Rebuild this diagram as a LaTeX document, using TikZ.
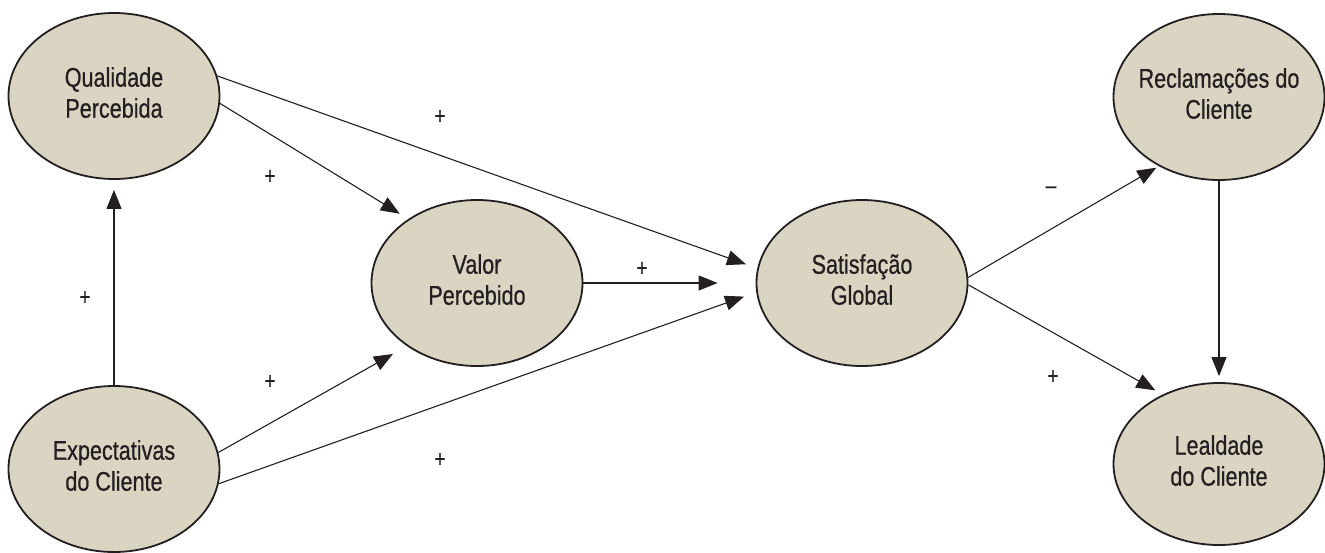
\documentclass[tikz,border=0pt]{standalone}
\usepackage{fontspec}
\setmainfont{Liberation Sans}[FakeStretch=0.8,FakeBold=0.6]
\usetikzlibrary{arrows.meta,shapes.geometric}
\definecolor{ink}{HTML}{231F20}
\definecolor{beige}{HTML}{DAD5C3}
\newcommand\twol[2]{\makebox[0pt]{\begin{tabular}{@{}c@{}}#1\\#2\end{tabular}}}
\begin{document}
\begin{tikzpicture}[x=1pt,y=-1pt,
  construct/.style={ellipse, draw=ink, line width=1.8pt, fill=beige,
    minimum width=211pt, minimum height=166pt, inner sep=0pt, text=ink,
    font=\fontsize{27}{31}\selectfont},
  link/.style={draw=ink, line width=1.1pt, -{Triangle[length=19pt,width=15pt]}},
  sign/.style={text=ink, font=\fontsize{24}{28}\selectfont, inner sep=0pt}]
\useasboundingbox (0,0) rectangle (1325,552);
\node[construct] (Q) at (114,96) {\twol{Qualidade}{Percebida}};
\node[construct] (E) at (114,469) {\twol{Expectativas}{do Cliente}};
\node[construct] (V) at (477,283) {\twol{Valor}{Percebido}};
\node[construct] (S) at (862,283) {\twol{Satisfação}{Global}};
\node[construct] (R) at (1219,97) {\twol{Reclamações do}{Cliente}};
\node[construct, minimum height=162pt] (L) at (1219,464) {\twol{Lealdade}{do Cliente}};

\draw[link, shorten >=10pt] (Q.-4) -- (V.137);
\draw[link, shorten >=12pt] (Q.11) -- (S.172);
\draw[link, shorten >=38pt] (V.east) -- (S.west);
\draw[link, shorten >=16pt] (E.9) -- (V.222);
\draw[link, shorten >=13pt] (E.-8) -- (S.185);
\draw[link, shorten >=10pt] (E.north) -- (Q.south);
\draw[link, shorten >=3pt] (S.3) -- (R.229);
\draw[link, shorten >=8.5pt] (S.-1) -- (L.129);
\draw[link, shorten >=6pt] (R.south) -- (L.north);

\node[sign] (p1) at (440,117) {+};
\node[sign] (p2) at (270,177) {+};
\node[sign] (p3) at (270,382) {+};
\node[sign] (p4) at (440,460) {+};
\node[sign] (p5) at (642,269) {+};
\node[sign] (p6) at (85,298) {+};
\node[sign] (m1) at (1051,190) {–};
\node[sign] (p7) at (1053,377) {+};
\end{tikzpicture}
\end{document}
